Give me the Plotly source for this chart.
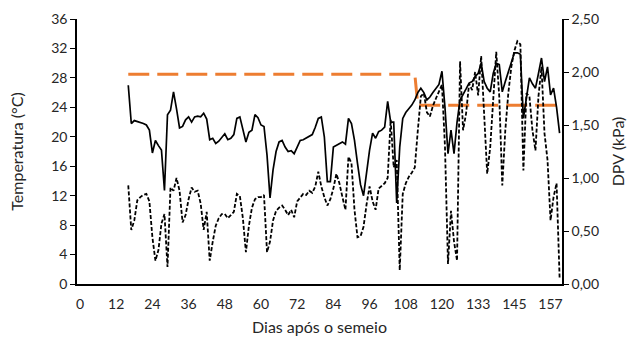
import plotly.graph_objects as go

days = list(range(16, 160))

temperatura = [
    27.0, 21.8, 22.2, 22.1, 21.9, 21.8, 21.6, 20.9, 17.8, 19.5,   # 16-25
    18.8, 18.2, 12.7, 23.0, 23.6, 26.1, 23.8, 21.2, 21.4, 22.3,   # 26-35
    22.7, 22.0, 22.7, 22.8, 22.7, 23.2, 22.4, 19.6, 19.8, 19.1,   # 36-45
    19.4, 19.9, 20.4, 19.6, 19.8, 20.3, 22.5, 22.7, 21.0, 19.3,   # 46-55
    20.6, 20.9, 23.0, 22.6, 21.6, 21.4, 17.5, 11.7, 15.5, 18.0,   # 56-65
    19.3, 19.5, 18.6, 18.0, 18.1, 17.7, 18.6, 19.5, 19.6, 19.8,   # 66-75
    20.0, 20.3, 21.3, 22.5, 22.7, 20.0, 13.9, 13.9, 18.6, 18.8,   # 76-85
    19.1, 19.3, 19.0, 22.5, 21.8, 19.5, 16.4, 13.5, 12.0, 15.5,   # 86-95
    18.2, 20.5, 19.8, 20.7, 20.9, 21.3, 24.8, 22.0, 22.0, 11.0,   # 96-105
    18.6, 22.5, 23.3, 23.8, 24.3, 25.0, 26.0, 26.6, 26.0, 25.0,   # 106-115
    25.4, 26.0, 26.6, 27.1, 28.9, 24.0, 17.7, 20.9, 17.7, 22.0,   # 116-125
    25.0, 25.7, 26.5, 27.3, 27.5, 28.2, 28.6, 30.0, 27.5, 26.6,   # 126-135
    26.1, 28.6, 30.0, 29.8, 26.1, 27.5, 28.8, 30.2, 31.4, 31.4,   # 136-145
    31.2, 22.5, 25.5, 28.0, 27.2, 26.6, 28.6, 30.7, 27.5, 29.5,   # 146-155
    25.7, 26.6, 24.0, 20.5,                                       # 156-159
]

dpv = [
    0.93, 0.51, 0.60, 0.79, 0.82, 0.84, 0.85, 0.78, 0.44, 0.22,   # 16-25
    0.32, 0.57, 0.66, 0.16, 0.91, 0.88, 1.00, 0.88, 0.58, 0.65,   # 26-35
    0.80, 0.91, 0.87, 0.88, 0.76, 0.51, 0.68, 0.22, 0.40, 0.55,   # 36-45
    0.62, 0.66, 0.66, 0.62, 0.65, 0.68, 0.85, 0.83, 0.62, 0.30,   # 46-55
    0.55, 0.72, 0.80, 0.82, 0.82, 0.84, 0.30, 0.40, 0.60, 0.69,   # 56-65
    0.72, 0.74, 0.70, 0.65, 0.70, 0.63, 0.78, 0.82, 0.85, 0.84,   # 66-75
    0.88, 0.86, 0.92, 1.06, 0.92, 0.82, 0.74, 0.80, 0.90, 1.04,   # 76-85
    0.95, 0.82, 0.70, 1.20, 1.14, 0.70, 0.44, 0.45, 0.54, 0.75,   # 86-95
    0.92, 0.78, 0.70, 0.90, 0.93, 0.95, 1.00, 1.55, 1.10, 1.17,   # 96-105
    0.13, 0.85, 0.95, 1.01, 1.05, 1.10, 1.45, 1.77, 1.80, 1.62,   # 106-115
    1.58, 1.68, 1.75, 1.82, 1.88, 1.30, 0.19, 0.69, 0.40, 0.22,   # 116-125
    2.10, 1.45, 1.61, 1.89, 1.83, 2.00, 1.78, 2.15, 1.64, 1.04,   # 126-135
    1.29, 1.80, 2.19, 1.77, 0.93, 1.45, 1.80, 2.05, 2.20, 2.29,   # 136-145
    2.26, 1.07, 1.80, 1.77, 1.45, 1.26, 1.77, 2.05, 1.42, 1.17,   # 146-155
    0.60, 0.82, 0.95, 0.06,                                       # 156-159
]

referencia = [28.5] * 96 + [24.3] * 48   # days 16-111, 112-159

x_tickvals = [0, 12, 24, 36, 48, 60, 72, 84, 96, 108, 120, 132, 144, 156]
x_ticktext = ["0", "12", "24", "36", "48", "60", "72", "84", "96", "108", "120", "133", "145", "157"]
y_ticks = [0, 4, 8, 12, 16, 20, 24, 28, 32, 36]
y2_ticks = [0, 0.5, 1.0, 1.5, 2.0, 2.5]
y2_text = ["0,00", "0,50", "1,00", "1,50", "2,00", "2,50"]

FONT = "Lato"
TXT = "#262626"

fig = go.Figure()
fig.add_trace(go.Scatter(x=days, y=referencia, mode="lines",
                         line=dict(color="#ED7D31", width=3, dash="21px,8px"),
                         showlegend=False))
fig.add_trace(go.Scatter(x=days, y=dpv, mode="lines", yaxis="y2",
                         line=dict(color="black", width=1.8, dash="4px,2px"),
                         showlegend=False))
fig.add_trace(go.Scatter(x=days, y=temperatura, mode="lines",
                         line=dict(color="black", width=1.7),
                         showlegend=False))

fig.update_layout(
    width=633, height=338,
    margin=dict(l=77, r=71, t=19, b=54, autoexpand=False),
    paper_bgcolor="white", plot_bgcolor="white",
    font=dict(family=FONT, size=14, color=TXT),
    xaxis=dict(range=[-1, 159.8], tickvals=x_tickvals, ticktext=x_ticktext,
               showgrid=False, zeroline=False, showline=True, linecolor="black",
               linewidth=1.5, ticks="outside", ticklen=6, tickcolor="rgba(0,0,0,0)",
               tickfont=dict(size=14, color=TXT), automargin=False,
               title=dict(text="Dias após o semeio", font=dict(size=16, color=TXT), standoff=11)),
    yaxis=dict(range=[0, 36], tickvals=y_ticks, showgrid=False, zeroline=False,
               showline=True, linecolor="black", linewidth=1.5, ticks="outside",
               ticklen=5, tickcolor="black", tickfont=dict(size=14, color=TXT),
               automargin=False,
               title=dict(text="Temperatura (°C)", font=dict(size=16, color=TXT), standoff=24)),
    yaxis2=dict(range=[0, 2.5], tickvals=y2_ticks, ticktext=y2_text, overlaying="y",
                side="right", showgrid=False, zeroline=False, showline=True,
                linecolor="black", linewidth=1.5, ticks="outside", ticklen=5,
                tickcolor="black", tickfont=dict(size=14, color=TXT), automargin=False,
                title=dict(text="DPV (kPa)", font=dict(size=16, color=TXT), standoff=15)),
)

fig.write_html("out.html")
